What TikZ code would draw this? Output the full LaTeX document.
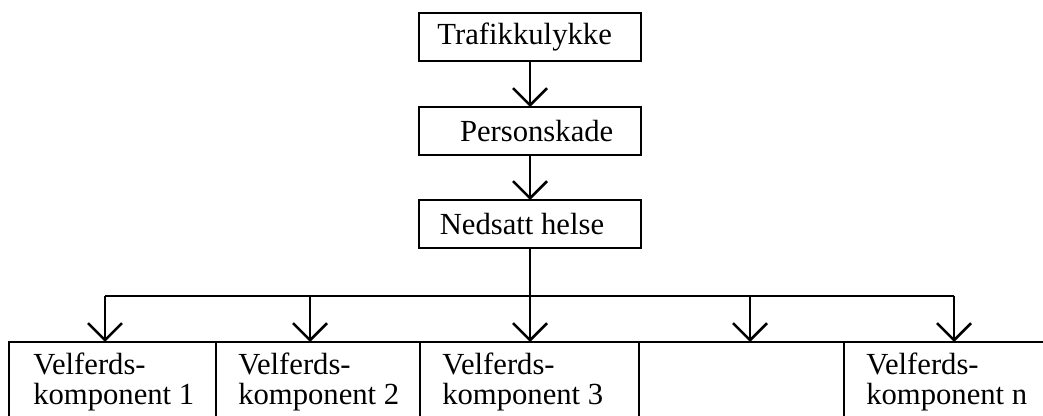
\documentclass[tikz,border=0pt]{standalone}
\usepackage{fontspec}
\setmainfont{Liberation Serif}
\usetikzlibrary{arrows.meta,calc}
\begin{document}
\begin{tikzpicture}[x=0.75pt,y=-0.75pt,line width=1.9pt,
  txt/.style={font=\fontsize{23}{22.5}\selectfont},
  box/.style={draw,txt,minimum width=166.5pt,minimum height=36pt,inner sep=0pt,outer sep=0pt},
  cell/.style={draw,anchor=north west,minimum height=75pt,inner sep=0pt,outer sep=0pt},
  lbl/.style={txt,anchor=north west,align=left,inner sep=0pt},
  arr/.style={-{Straight Barb[length=12.75pt,width=25.5pt]}}]
\useasboundingbox (0,0) rectangle (1043,416);
\clip (0,0) rectangle (1043,416);
\node[box] (n1) at (530,37) {\hspace*{-8pt}Trafikkulykke};
\node[box] (n2) at (530,131) {\hspace*{10pt}Personskade};
\node[box] (n3) at (530,224) {\hspace*{-12pt}Nedsatt helse};
\draw[arr] (n1) -- (n2);
\draw[arr] (n2) -- (n3);
\node[cell,minimum width=155.25pt] (c1) at (9,342) {};
\node[cell,minimum width=153pt] (c2) at (216,342) {};
\node[cell,minimum width=164.25pt] (c3) at (420,342) {};
\node[cell,minimum width=153.75pt] (c4) at (639,342) {};
\node[cell,minimum width=165pt] (c5) at (844,342) {};
\coordinate (b1) at (105,296);
\coordinate (b2) at (310,296);
\coordinate (b3) at (530,296);
\coordinate (b4) at (750,296);
\coordinate (b5) at (954,296);
\draw (n3.south) -- (b3);
\draw (b1) -- (b5);
\foreach \i in {1,...,5}{\draw[arr] (b\i) -- (b\i |- c\i.north);}
\node[lbl] (t1) at ($(c1.north west)+(23,10)$) {Velferds-\\komponent 1};
\node[lbl] (t2) at ($(c2.north west)+(21,10)$) {Velferds-\\komponent 2};
\node[lbl] (t3) at ($(c3.north west)+(21,10)$) {Velferds-\\komponent 3};
\node[lbl] (t5) at ($(c5.north west)+(21,10)$) {Velferds-\\komponent n};
\end{tikzpicture}
\end{document}
